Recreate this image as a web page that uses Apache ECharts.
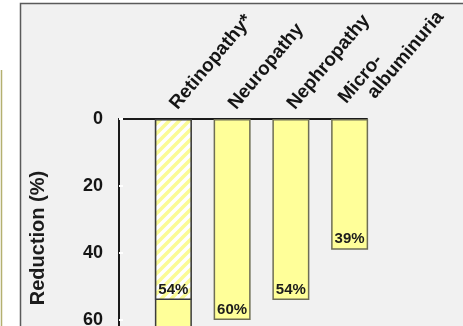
<!DOCTYPE html>
<html>
<head>
<meta charset="utf-8">
<script src="https://cdn.jsdelivr.net/npm/echarts@6/dist/echarts.min.js"></script>
<style>
  html, body { margin: 0; padding: 0; background: #ffffff; overflow: hidden; width: 463px; height: 326px; }
  #chart { width: 463px; height: 470px; }
</style>
</head>
<body>
<div id="chart"></div>
<script>
// Risk reduction per complication (%)
const categories = ['Retinopathy*', 'Neuropathy', 'Nephropathy', 'Micro-\nalbuminuria'];
const totalReduction = [76, 60, 54, 39];
const hatchedReduction = [54, null, null, null];
const yTicks = [0, 20, 40, 60, 80, 100];

const FONT = 'Arial, "Liberation Sans", Helvetica, sans-serif';

// Diagonal yellow stripes on white for the hatched segment
function stripePattern() {
  const c = document.createElement('canvas');
  c.width = 10; c.height = 10;
  const g = c.getContext('2d');
  g.fillStyle = '#ffffff';
  g.fillRect(0, 0, 10, 10);
  g.strokeStyle = '#fbfb96';
  g.lineWidth = 3.5;
  g.beginPath();
  g.moveTo(-5, 5); g.lineTo(5, -5);
  g.moveTo(0, 10); g.lineTo(10, 0);
  g.moveTo(5, 15); g.lineTo(15, 5);
  g.stroke();
  return c;
}

// Continuation lines of a category name are indented
function categoryLabel(name) {
  const lines = name.split('\n');
  if (lines.length < 2) return name;
  return lines.map((s, i) => (i === 0 ? '{a|' : '{b|') + s + '}').join('\n');
}

const catText = { fontFamily: FONT, fontWeight: 'bold', fontSize: 19, lineHeight: 19, color: '#151515' };

const chart = echarts.init(document.getElementById('chart'), null, { renderer: 'canvas' });

const yScale = { type: 'value', inverse: true, min: yTicks[0], max: yTicks[yTicks.length - 1], interval: yTicks[1] - yTicks[0] };

chart.setOption({
  animation: false,
  backgroundColor: '#ffffff',
  graphic: [
    { type: 'line', z: -10, shape: { x1: 1.5, y1: 70, x2: 1.5, y2: 470 },
      style: { stroke: '#b4b070', lineWidth: 1.5 } },
    { type: 'rect', z: -10, shape: { x: 20.5, y: 3.5, width: 460, height: 480 },
      style: { fill: '#f1f1f1', stroke: '#5a5a5a', lineWidth: 1.5 } },
    { type: 'text', z: 10, x: 38, y: 238, rotation: Math.PI / 2,
      style: { text: 'Reduction (%)', font: 'bold 20px ' + FONT, fill: '#1c1c1c',
               align: 'center', verticalAlign: 'middle' } }
  ],
  grid: [
    { left: 119, top: 119, width: 248, height: 335, outerBoundsMode: 'none', containLabel: false },
    { left: 144, top: 119, width: 235, height: 335, outerBoundsMode: 'none', containLabel: false }
  ],
  xAxis: [
    { gridIndex: 0, type: 'category', data: [''], position: 'top',
      axisLine: { show: true, lineStyle: { color: '#1a1a1a', width: 2 } },
      axisTick: { show: false }, axisLabel: { show: false }, splitLine: { show: false } },
    { gridIndex: 1, type: 'category', data: categories, position: 'top',
      axisLine: { show: false }, axisTick: { show: false }, splitLine: { show: false },
      axisLabel: Object.assign({ interval: 0, rotate: 50, margin: 12, formatter: categoryLabel,
                   rich: { a: Object.assign({}, catText),
                           b: Object.assign({ padding: [0, 0, 0, 22] }, catText) } }, catText) }
  ],
  yAxis: [
    Object.assign({ gridIndex: 0,
      axisLine: { show: true, lineStyle: { color: '#1a1a1a', width: 2 } },
      axisTick: { show: true, inside: true, length: 4, lineStyle: { color: '#ffffff', width: 2 } },
      axisLabel: { margin: 16, fontFamily: FONT, fontWeight: 'bold', fontSize: 18, color: '#151515' },
      splitLine: { show: false } }, yScale),
    Object.assign({ gridIndex: 1, show: false, splitLine: { show: false } }, yScale)
  ],
  series: [
    {
      type: 'bar', xAxisIndex: 1, yAxisIndex: 1, barWidth: 37, barGap: '-100%',
      data: totalReduction.map((v, i) => ({
        value: v,
        itemStyle: i === 0 ? { borderColor: '#3c3c3c' } : {}
      })),
      itemStyle: { color: '#ffff99', borderColor: '#6e6e55', borderWidth: 1.5 },
      label: { show: true, position: 'insideBottom', distance: 3, formatter: '{c}%',
               fontFamily: FONT, fontWeight: 'bold', fontSize: 15, color: '#1c1c1c' }
    },
    {
      type: 'bar', xAxisIndex: 1, yAxisIndex: 1, barWidth: 37, barGap: '-100%',
      data: hatchedReduction.map(v => (v == null ? '-' : v)),
      itemStyle: { color: { image: stripePattern(), repeat: 'repeat' },
                   borderColor: '#3c3c3c', borderWidth: 1.5 },
      label: { show: true, position: 'insideBottom', distance: 3, formatter: '{c}%',
               fontFamily: FONT, fontWeight: 'bold', fontSize: 15, color: '#1c1c1c' }
    }
  ]
});
</script>
</body>
</html>
